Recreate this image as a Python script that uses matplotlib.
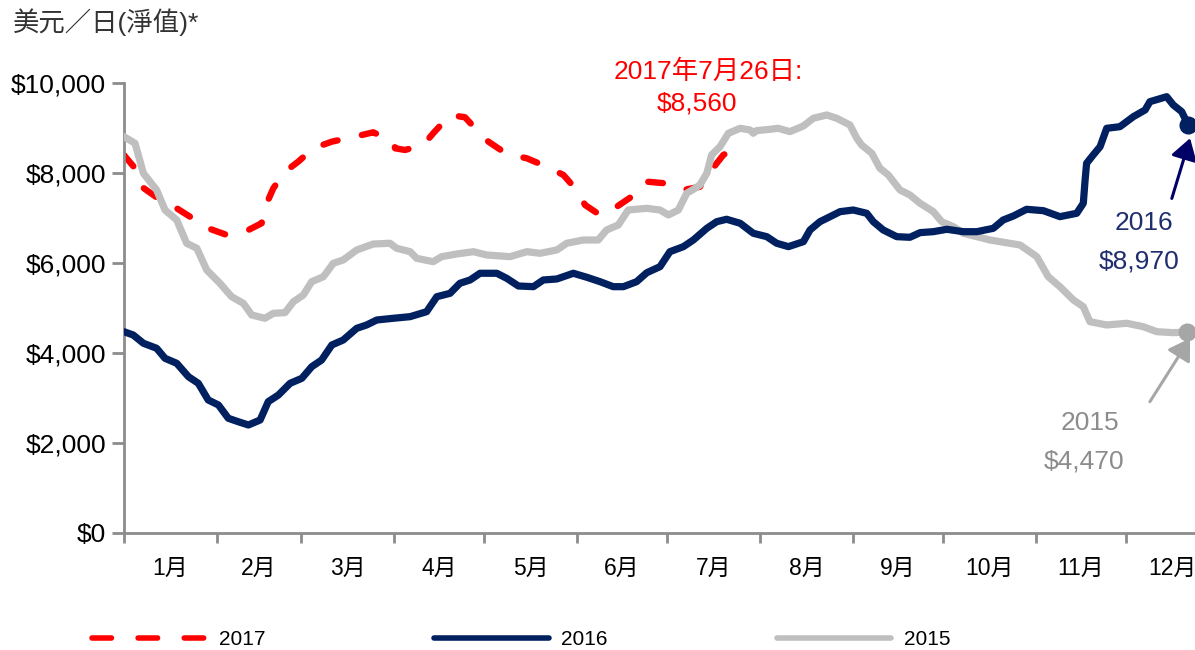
import matplotlib
matplotlib.use("Agg")
import matplotlib.pyplot as plt
from matplotlib.lines import Line2D
from matplotlib.ticker import FuncFormatter, FixedLocator

plt.rcParams['font.family'] = ['Liberation Sans', 'Noto Sans CJK TC', 'DejaVu Sans']

# ---------------- data (x = day of year, y = USD/day) ----------------
days_2015 = [0, 3.7, 6.5, 10.9, 13.7, 17.6, 20.9, 24.3, 27.6, 32.0, 35.9, 39.8, 42.6, 47.0,
             49.8, 53.7, 56.5, 59.8, 62.6, 66.5, 69.8, 73.1, 77.6, 83.1, 88.7, 90.9, 95.4,
             97.6, 103.1, 105.9, 110.9, 116.5, 120.9, 128.7, 134.3, 138.7, 144.3, 147.6,
             153.1, 158.1, 160.9, 164.8, 168.1, 174.3, 178.7, 181.5, 184.8, 187.6, 190.4,
             192.0, 194.3, 195.9, 198.7, 201.5, 205.4, 208.7, 209.8, 210.9, 215.4, 218.1,
             222.0, 226.5, 229.8, 234.3, 237.6, 242.0, 244.3, 245.9, 249.3, 252.0, 254.8,
             258.7, 262.0, 265.4, 269.8, 272.6, 276.5, 279.8, 284.3, 288.7, 292.0, 298.7,
             304.3, 308.1, 312.0, 316.5, 319.8, 322.0, 327.6, 334.3, 339.8, 344.3, 349.8, 354.5]
vals_2015 = [8814, 8667, 8000, 7628, 7183, 6961, 6443, 6332, 5849, 5553, 5255, 5108, 4848, 4775,
             4886, 4900, 5144, 5293, 5589, 5700, 5998, 6072, 6294, 6427, 6443, 6332, 6256,
             6108, 6034, 6145, 6205, 6256, 6183, 6145, 6256, 6220, 6294, 6443,
             6516, 6516, 6739, 6850, 7183, 7221, 7183, 7072, 7183, 7555, 7666,
             7740, 8000, 8407, 8592, 8889, 9000, 8963, 8889, 8948, 8978, 9000,
             8926, 9052, 9223, 9296, 9223, 9074, 8778, 8629, 8444, 8111, 7962,
             7628, 7517, 7332, 7146, 6923, 6812, 6665, 6590, 6516, 6479, 6405,
             6145, 5700, 5478, 5182, 5033, 4699, 4626, 4664, 4588, 4477, 4455, 4470]

days_2016 = [0, 3.1, 6.5, 10.9, 13.7, 17.6, 21.5, 24.8, 28.1, 31.5, 34.8, 38.1, 41.5, 45.4,
             48.1, 51.5, 55.4, 59.3, 62.6, 65.9, 69.3, 73.1, 77.6, 80.9, 84.3, 89.8, 95.4,
             100.9, 104.3, 108.7, 112.0, 115.4, 118.7, 124.3, 127.6, 131.5, 136.5, 139.8,
             144.3, 149.8, 154.3, 158.7, 163.1, 166.5, 170.9, 174.3, 178.7, 182.0, 186.5,
             189.8, 194.3, 197.6, 200.9, 205.4, 209.8, 214.3, 217.6, 221.5, 226.5, 228.7,
             232.0, 235.4, 238.7, 243.1, 247.6, 249.8, 253.1, 257.6, 262.0, 265.4, 269.8,
             274.3, 279.8, 284.3, 289.8, 293.1, 296.5, 300.9, 306.5, 312.0, 317.6, 319.8,
             320.4, 320.9, 323.1, 325.4, 327.6, 332.0, 336.5, 340.4, 342.0, 347.6, 349.8,
             352.6, 354.7]
vals_2016 = [4477, 4403, 4219, 4108, 3885, 3774, 3476, 3329, 2958, 2847, 2551, 2475, 2402, 2513,
             2920, 3069, 3329, 3440, 3698, 3847, 4181, 4292, 4552, 4626, 4737, 4775, 4811,
             4922, 5255, 5330, 5553, 5627, 5776, 5776, 5664, 5493, 5478, 5627,
             5649, 5776, 5687, 5589, 5478, 5478, 5589, 5789, 5923, 6256, 6368,
             6516, 6776, 6923, 6977, 6888, 6665, 6590, 6443, 6368, 6479, 6739,
             6923, 7035, 7146, 7183, 7110, 6923, 6739, 6590, 6576, 6680, 6701,
             6754, 6701, 6701, 6776, 6961, 7050, 7199, 7168, 7035, 7110, 7332,
             7850, 8222, 8407, 8592, 9000, 9036, 9259, 9408, 9592, 9703, 9519,
             9370, 9080]

days_2017 = [0, 3.7, 5.9, 9.8, 13.7, 17.6, 22.0, 28.1, 34.3, 37.6, 41.5, 45.9, 47.6, 49.8,
             53.7, 58.1, 63.1, 69.3, 77.0, 83.1, 89.8, 90.4, 93.7, 99.8, 103.1, 108.7,
             113.7, 118.1, 121.5, 127.6, 134.3, 140.9, 146.5, 150.9, 153.7, 158.7, 164.3,
             170.9, 174.3, 180.4, 186.5, 192.0, 195.4, 199.8, 203.7]
vals_2017 = [8407, 8111, 7702, 7517, 7332, 7221, 7035, 6776, 6628, 6665, 6739, 6888, 7332, 7666,
             8035, 8258, 8555, 8703, 8814, 8911, 8703, 8555, 8518, 8629, 8889, 9296,
             9245, 8926, 8703, 8429, 8333, 8147, 7962, 7628, 7295, 7072, 7257,
             7555, 7813, 7777, 7628, 7700, 8035, 8407, 8560]

month_edges = [0, 31, 59, 90, 120, 151, 181, 212, 243, 273, 304, 334, 365]
month_labels = ['1月', '2月', '3月', '4月', '5月', '6月', '7月', '8月', '9月', '10月', '11月', '12月']
y_ticks = [0, 2000, 4000, 6000, 8000, 10000]
series_labels = ['2017', '2016', '2015']

# ---------------- style ----------------
RED = '#FF0000'
NAVY = '#002060'
GRAY = '#BFBFBF'
AXIS = '#8C8C8C'

fig = plt.figure(figsize=(11.95, 6.5), dpi=100)
ax = fig.add_axes([0.1037, 0.18, 0.9163, 0.6918])

ax.plot(days_2017, vals_2017, color=RED, lw=4.6, linestyle=(0, (2.3, 3.9)),
        dash_capstyle='round', solid_joinstyle='round', zorder=2)
ax.plot(days_2015, vals_2015, color=GRAY, lw=5.2, solid_capstyle='round',
        solid_joinstyle='round', zorder=3)
ax.plot(days_2016, vals_2016, color=NAVY, lw=5.2, solid_capstyle='round',
        solid_joinstyle='round', zorder=4)
ax.plot(days_2015[-1:], vals_2015[-1:], 'o', color='#A6A6A6', ms=12, zorder=5, clip_on=False)
ax.plot(days_2016[-1:], vals_2016[-1:], 'o', color=NAVY, ms=12, zorder=5, clip_on=False)

ax.set_xlim(0, 365)
ax.set_ylim(0, 10000)

for s in ['top', 'right']:
    ax.spines[s].set_visible(False)
for s in ['left', 'bottom']:
    ax.spines[s].set_color(AXIS)
    ax.spines[s].set_linewidth(2)

ax.yaxis.set_major_locator(FixedLocator(y_ticks))
ax.yaxis.set_major_formatter(FuncFormatter(lambda v, p: '${:,.0f}'.format(v)))
ax.tick_params(axis='y', length=9, width=2, color=AXIS, pad=4, labelsize=19, labelcolor='black')

mids = [(a + b) / 2 for a, b in zip(month_edges[:-1], month_edges[1:])]
ax.set_xticks(month_edges[:-1])
ax.set_xticklabels([])
ax.set_xticks(mids, minor=True)
ax.set_xticklabels(month_labels, minor=True)
ax.tick_params(axis='x', which='major', length=7, width=2, color=AXIS)
ax.tick_params(axis='x', which='minor', length=0, pad=17, labelsize=16.5, labelcolor='black')

# title
fig.text(0.011, 1 - 22 / 650, '美元／日(淨值)*', fontsize=19, color='#333333',
         ha='left', va='center')

# annotations
ax.text(194.7, 10250, '2017年7月26日:', color=RED, fontsize=19, ha='center', va='center',
        clip_on=False)
ax.text(191, 9560, '$8,560', color=RED, fontsize=19, ha='center', va='center', clip_on=False)

ax.text(340, 6890, '2016', color='#1F2E6E', fontsize=19, ha='center', va='center')
ax.text(338.5, 6030, '$8,970', color='#1F2E6E', fontsize=19, ha='center', va='center')
ax.annotate('', xy=(355.4, 8780), xytext=(349.3, 7440),
            arrowprops=dict(arrowstyle='-|>,head_length=0.4,head_width=0.25',
                            mutation_scale=32, color='#000066', lw=2.2,
                            shrinkA=0, shrinkB=0), annotation_clip=False)

ax.text(322, 2450, '2015', color='#8C8C8C', fontsize=19, ha='center', va='center')
ax.text(320, 1580, '$4,470', color='#8C8C8C', fontsize=19, ha='center', va='center')
ax.annotate('', xy=(355.4, 4330), xytext=(342, 2920),
            arrowprops=dict(arrowstyle='-|>,head_length=0.4,head_width=0.25',
                            mutation_scale=32, color='#A6A6A6', lw=2.2,
                            shrinkA=0, shrinkB=0), annotation_clip=False)

# legend
handles = [
    Line2D([], [], color=RED, lw=4, linestyle=(0, (3.5, 4.8)), dash_capstyle='round'),
    Line2D([], [], color=NAVY, lw=4, solid_capstyle='round'),
    Line2D([], [], color=GRAY, lw=4, solid_capstyle='round'),
]
fig.legend(handles, series_labels, loc='center', bbox_to_anchor=(0.436, 0.016), ncol=3,
           frameon=False, fontsize=15, handlelength=5.5, handletextpad=0.6,
           columnspacing=8.1, borderaxespad=0, borderpad=0)

fig.savefig('out.png', dpi=100)
